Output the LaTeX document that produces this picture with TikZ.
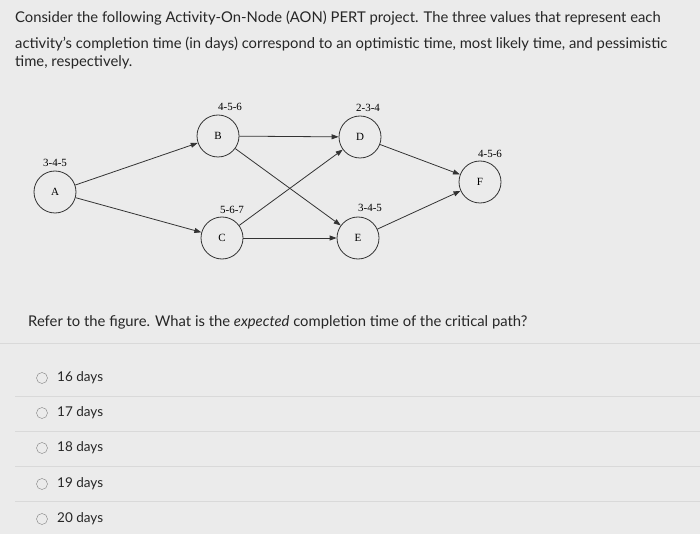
\documentclass[tikz,border=0pt]{standalone}
\usepackage{fontspec}
\setmainfont{Lato}
\newfontfamily\serifd{Liberation Serif}
\usetikzlibrary{arrows.meta}
\begin{document}
\begin{tikzpicture}[x=1pt,y=-1pt,
  act/.style={circle,draw=black!80,thick,minimum size=42pt,inner sep=0pt,font=\serifd\fontsize{11}{13}\selectfont},
  lab/.style={font=\serifd\fontsize{11}{13}\selectfont},
  edge/.style={draw=black!80,thick,-{Triangle[length=7pt,width=5pt]}},
  txt/.style={anchor=west,inner sep=0pt,font=\fontsize{14.8}{17}\selectfont,text=black!85},
  opt/.style={anchor=west,inner sep=0pt,font=\fontsize{13.5}{16}\selectfont,text=black!85},
  radio/.style={circle,draw=black!50,thin,minimum size=11pt,inner sep=0pt},
  sep/.style={draw=black!15,thin}]
\fill[black!8] (0,0) rectangle (700,534);
\useasboundingbox (0,0) rectangle (700,534);
\node[txt] (t1) at (15,18) {Consider the following Activity-On-Node (AON) PERT project. The three values that represent each};
\node[txt] (t2) at (15,44) {activity's completion time (in days) correspond to an optimistic time, most likely time, and pessimistic};
\node[txt] (t3) at (15,62) {time, respectively.};
\node[act] (A) at (55,192) {A};
\node[act] (B) at (218,136) {B};
\node[act] (D) at (360,137) {D};
\node[act] (C) at (222,238) {C};
\node[act] (E) at (358,238) {E};
\node[act] (F) at (480,182) {F};
\node[lab] (lA) at (55,163) {3-4-5};
\node[lab] (lB) at (230,107) {4-5-6};
\node[lab] (lD) at (368,108) {2-3-4};
\node[lab] (lC) at (232,210) {5-6-7};
\node[lab] (lE) at (370,208) {3-4-5};
\node[lab] (lF) at (490,154) {4-5-6};
\draw[edge] (A) -- (B);
\draw[edge] (A) -- (C);
\draw[edge] (B) -- (D);
\draw[edge] (B) -- (E);
\draw[edge] (C) -- (D);
\draw[edge] (C) -- (E);
\draw[edge] (D) -- (F);
\draw[edge] (E) -- (F);
\node[txt] (q) at (28,322) {Refer to the figure. What is the \textit{expected} completion time of the critical path?};
\draw[sep] (0,343) -- (700,343);
\foreach \y/\t [count=\i] in {378/16 days,413/17 days,448/18 days,484/19 days,519/20 days}{
  \node[radio] (r\i) at (42,\y) {};
  \node[opt] (o\i) at (57,\y) {\t};
}
\foreach \y in {396,431,466,501}{\draw[sep] (15,\y) -- (700,\y);}
\end{tikzpicture}
\end{document}
